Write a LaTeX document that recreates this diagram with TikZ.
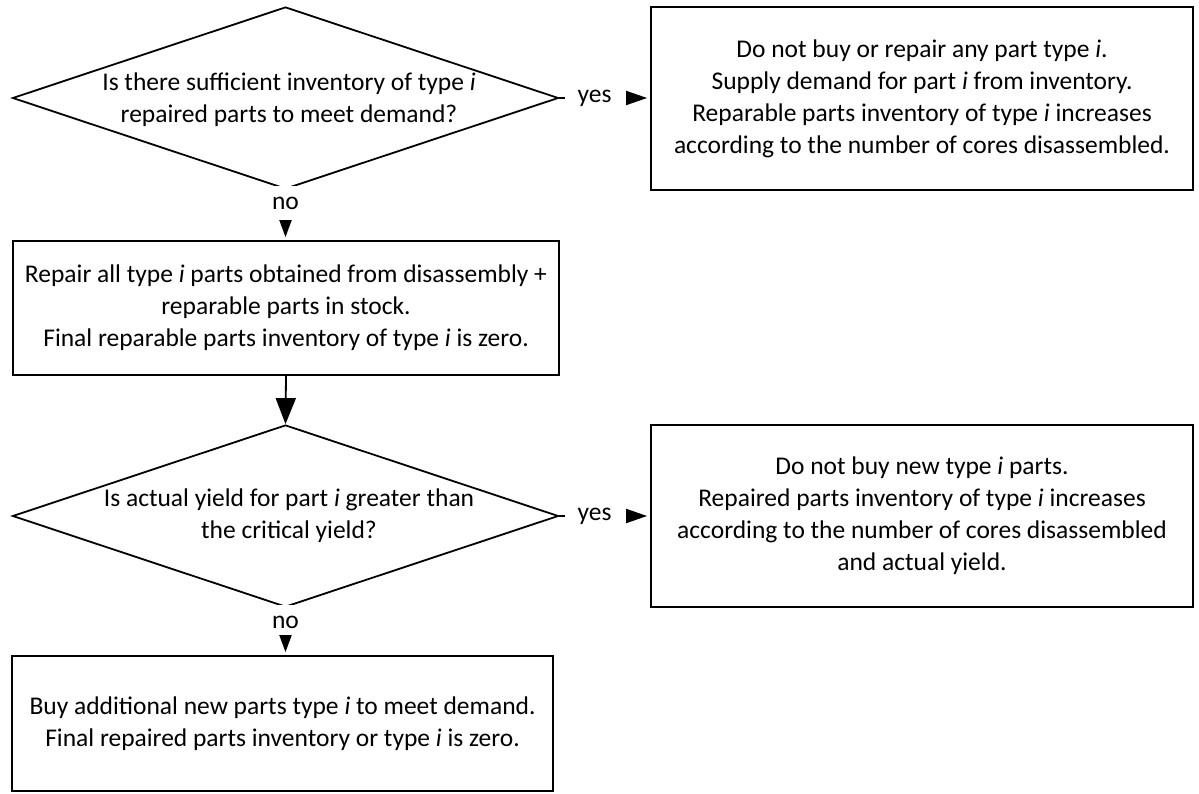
\documentclass[tikz,border=0pt]{standalone}
\usepackage{fontspec}
\setmainfont{Carlito}
\usetikzlibrary{shapes.geometric,arrows.meta}
\begin{document}
\begin{tikzpicture}[x=1pt,y=-1pt,
  every node/.style={font=\fontsize{25.5}{32}\selectfont},
  box/.style={draw, line width=1.8pt, inner sep=0pt, align=center},
  dia/.style={draw, diamond, line width=1.8pt, inner sep=0pt, minimum width=546pt, minimum height=182pt},
  qtext/.style={align=center, inner sep=0pt},
  yn/.style={fill=white, inner ysep=0pt, minimum height=34pt},
  sidetip/.style={line width=1.8pt, -{Triangle[length=21pt,width=14pt]}, shorten <=3pt, shorten >=3pt},
  downtip/.style={line width=1.8pt, -{Triangle[length=17pt,width=12pt]}, shorten >=3pt},
  bigtip/.style={line width=1.8pt, -{Triangle[length=26pt,width=20pt]}}
]
\useasboundingbox (0,0) rectangle (1199,794);

% first decision
\node[dia] (q1) at (285.5,98) {};
\node[qtext] (q1t) at (289,100) {Is there sufficient inventory of type \textit{i}\\repaired parts to meet demand?};
\node[yn, inner xsep=3pt] (no1) at (285.5,203) {no};
\node[yn, inner xsep=12pt] (yes1) at (594.5,98) {yes};

\node[box, minimum width=542pt, minimum height=183pt] (b1) at (922,98.5)
  {Do not buy or repair any part type \textit{i}.\\Supply demand for part \textit{i} from inventory.\\Reparable parts inventory of type \textit{i} increases\\according to the number of cores disassembled.};

\node[box, minimum width=546pt, minimum height=134pt] (b2) at (286,308)
  {Repair all type \textit{i} parts obtained from disassembly +\\reparable parts in stock.\\Final reparable parts inventory of type \textit{i} is zero.};

% second decision
\node[dia] (q2) at (285.5,516) {};
\node[qtext] (q2t) at (289,516) {Is actual yield for part \textit{i} greater than\\the critical yield?};
\node[yn, inner xsep=3pt] (no2) at (285.5,622) {no};
\node[yn, inner xsep=12pt] (yes2) at (594.5,516) {yes};

\node[box, minimum width=542pt, minimum height=182pt] (b4) at (922,516)
  {Do not buy new type \textit{i} parts.\\Repaired parts inventory of type \textit{i} increases\\according to the number of cores disassembled\\and actual yield.};

\node[box, minimum width=541pt, minimum height=135pt] (b3) at (282.5,723.5)
  {Buy additional new parts type \textit{i} to meet demand.\\Final repaired parts inventory or type \textit{i} is zero.};

% connectors
\draw[line width=1.8pt] (q1.east) -- (yes1.west);
\draw[sidetip] (yes1.east) -- (yes1.east -| b1.west);
\draw[downtip] (no1.south) -- (no1.south |- b2.north);
\draw[bigtip] (b2.south) -- (q2.north);
\draw[line width=1.8pt] (q2.east) -- (yes2.west);
\draw[sidetip] (yes2.east) -- (yes2.east -| b4.west);
\draw[downtip] (no2.south) -- (no2.south |- b3.north);
\end{tikzpicture}
\end{document}
